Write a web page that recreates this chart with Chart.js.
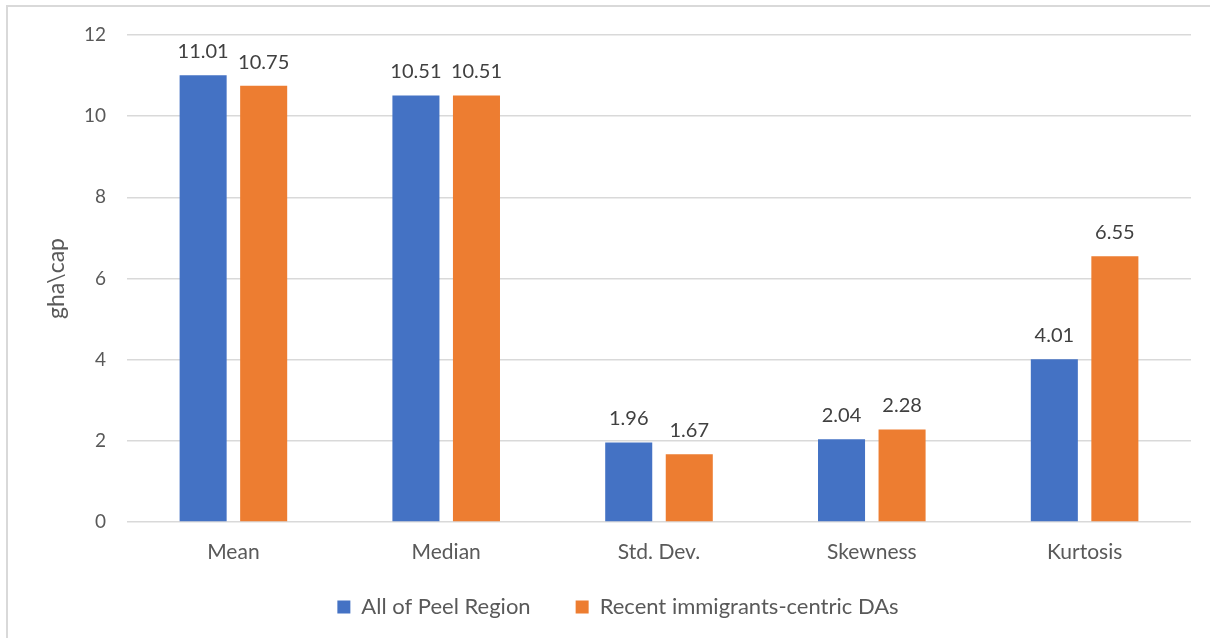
<!DOCTYPE html>
<html>
<head>
<meta charset="utf-8">
<script src="https://cdn.jsdelivr.net/npm/chart.js@4"></script>
<style>
  html, body { margin: 0; padding: 0; background: #fff; }
  #wrap { position: relative; width: 1210px; height: 638px; }
</style>
</head>
<body>
<div id="wrap"><canvas id="chart"></canvas></div>
<script>
const categories = ["Mean", "Median", "Std. Dev.", "Skewness", "Kurtosis"];
const peelValues = [11.01, 10.51, 1.96, 2.04, 4.01];
const immigrantValues = [10.75, 10.51, 1.67, 2.28, 6.55];
const yTicks = [0, 2, 4, 6, 8, 10, 12];

const FONT = "Lato, 'Open Sans', sans-serif";

// light frame along the top and left edges, white background
const framePlugin = {
    id: 'frame',
    beforeDraw: (chart) => {
        const ctx = chart.ctx;
        ctx.save();
        ctx.fillStyle = '#fff';
        ctx.fillRect(0, 0, chart.width, chart.height);
        ctx.strokeStyle = '#d9d9d9';
        ctx.lineWidth = 2;
        ctx.beginPath();
        ctx.moveTo(7, chart.height);
        ctx.lineTo(7, 6);
        ctx.lineTo(chart.width, 6);
        ctx.stroke();
        ctx.restore();
    }
};

// let the category labels spill below the (short) x-axis box,
// and keep the legend centred around x = 618
const layoutTweaks = {
    id: 'layoutTweaks',
    afterLayout: (chart) => {
        chart.scales.x.bottom = chart.height;
    },
    beforeDraw: (chart) => {
        const lg = chart.legend;
        if (!lg || !lg.legendHitBoxes || !lg.legendHitBoxes.length) return;
        const boxes = lg.legendHitBoxes;
        const minL = Math.min(...boxes.map(b => b.left));
        const maxR = Math.max(...boxes.map(b => b.left + b.width));
        const dx = 618 - (minL + maxR) / 2;
        lg.left += dx;
        lg.right += dx;
        boxes.forEach(b => { b.left += dx; });
    }
};

// value labels above each bar
const valueLabels = {
    id: 'valueLabels',
    afterDatasetsDraw: (chart) => {
        const ctx = chart.ctx;
        ctx.save();
        ctx.font = '20px ' + FONT;
        ctx.fillStyle = '#404040';
        ctx.textAlign = 'center';
        ctx.textBaseline = 'alphabetic';
        chart.data.datasets.forEach((ds, i) => {
            chart.getDatasetMeta(i).data.forEach((bar, j) => {
                ctx.fillText(ds.data[j].toFixed(2), bar.x, bar.y - 17);
            });
        });
        ctx.restore();
    }
};

new Chart(document.getElementById('chart'), {
    type: 'bar',
    data: {
        labels: categories,
        datasets: [
            {
                label: "All of Peel Region",
                data: peelValues,
                backgroundColor: "#4472C4",
                categoryPercentage: 0.569,
                barPercentage: 0.777
            },
            {
                label: "Recent immigrants-centric DAs",
                data: immigrantValues,
                backgroundColor: "#ED7D31",
                categoryPercentage: 0.569,
                barPercentage: 0.777
            }
        ]
    },
    options: {
        responsive: true,
        maintainAspectRatio: false,
        animation: false,
        layout: { padding: { left: 0, right: 19, top: 35, bottom: 10 } },
        plugins: {
            legend: {
                position: 'bottom',
                labels: {
                    boxWidth: 13,
                    boxHeight: 13,
                    padding: 45,
                    color: '#595959',
                    font: { family: FONT, size: 22 }
                }
            },
            tooltip: { enabled: false }
        },
        scales: {
            x: {
                grid: { display: false },
                border: { display: false },
                ticks: { color: '#595959', font: { family: FONT, size: 21 }, padding: 10 },
                afterFit: (s) => { s.height = 29; }
            },
            y: {
                min: 0,
                max: 12,
                afterBuildTicks: (s) => { s.ticks = yTicks.map(v => ({ value: v })); },
                grid: { color: '#d9d9d9', lineWidth: 1.5, drawTicks: false },
                border: { display: false },
                ticks: { color: '#595959', font: { family: FONT, size: 19 }, padding: 21 },
                title: {
                    display: true,
                    text: 'gha\\cap',
                    color: '#595959',
                    font: { family: FONT, size: 23 },
                    padding: { top: 43, bottom: 0 }
                },
                afterFit: (s) => { s.width = 127; }
            }
        }
    },
    plugins: [framePlugin, layoutTweaks, valueLabels]
});
</script>
</body>
</html>
